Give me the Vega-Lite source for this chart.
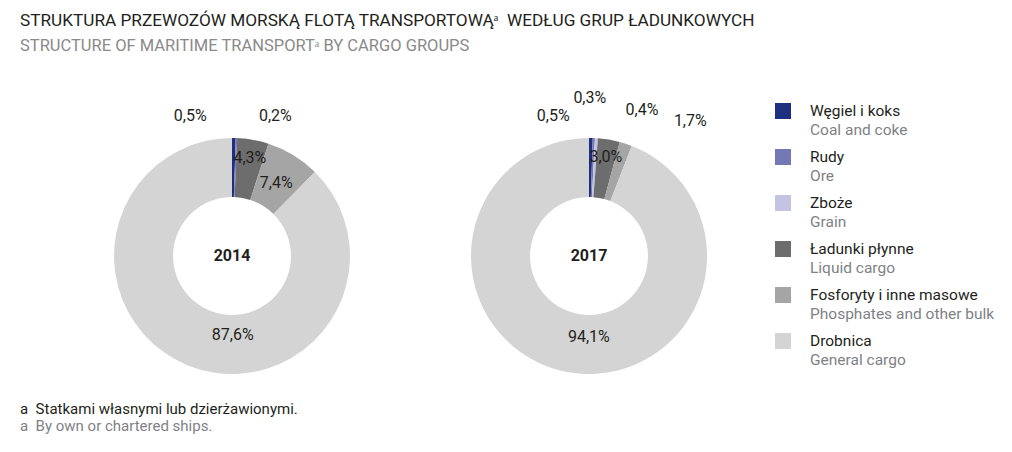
{
  "$schema": "https://vega.github.io/schema/vega-lite/v6.json",
  "padding": {"left": 20, "top": 11, "right": 0, "bottom": 0},
  "bounds": "flush",
  "title": {
    "text": "STRUKTURA PRZEWOZÓW MORSKĄ FLOTĄ TRANSPORTOWĄᵃ\u00a0\u00a0WEDŁUG GRUP ŁADUNKOWYCH",
    "subtitle": "STRUCTURE OF MARITIME TRANSPORTᵃ BY CARGO GROUPS",
    "anchor": "start",
    "fontSize": 17.2,
    "fontWeight": "normal",
    "color": "#231f20",
    "subtitleFontSize": 16.5,
    "subtitleColor": "#8a8a8a",
    "subtitlePadding": 8.5,
    "offset": 36
  },
  "datasets": {
    "cargo": [
      {"year": 2014, "cat": "Węgiel i koks", "en": "Coal and coke", "order": 1, "value": 0.5},
      {"year": 2014, "cat": "Rudy", "en": "Ore", "order": 2, "value": 0.2},
      {"year": 2014, "cat": "Ładunki płynne", "en": "Liquid cargo", "order": 4, "value": 4.3},
      {"year": 2014, "cat": "Fosforyty i inne masowe", "en": "Phosphates and other bulk", "order": 5, "value": 7.4},
      {"year": 2014, "cat": "Drobnica", "en": "General cargo", "order": 6, "value": 87.6},
      {"year": 2017, "cat": "Węgiel i koks", "en": "Coal and coke", "order": 1, "value": 0.5},
      {"year": 2017, "cat": "Rudy", "en": "Ore", "order": 2, "value": 0.3},
      {"year": 2017, "cat": "Zboże", "en": "Grain", "order": 3, "value": 0.4},
      {"year": 2017, "cat": "Ładunki płynne", "en": "Liquid cargo", "order": 4, "value": 3.0},
      {"year": 2017, "cat": "Fosforyty i inne masowe", "en": "Phosphates and other bulk", "order": 5, "value": 1.7},
      {"year": 2017, "cat": "Drobnica", "en": "General cargo", "order": 6, "value": 94.1}
    ]
  },
  "columns": 3,
  "spacing": 0,
  "concat": [
    {
      "width": 424,
      "height": 290,
      "data": {"name": "cargo"},
      "transform": [{"filter": "datum.year == 2014"}],
      "layer": [
        {
          "mark": {"type": "arc", "outerRadius": 118, "innerRadius": 59},
          "encoding": {
            "theta": {"field": "value", "type": "quantitative", "stack": true},
            "order": {"field": "order", "type": "quantitative"},
            "color": {
              "field": "cat", "type": "nominal", "legend": null,
              "scale": {
                "domain": ["Węgiel i koks", "Rudy", "Zboże", "Ładunki płynne", "Fosforyty i inne masowe", "Drobnica"],
                "range": ["#1f2f7f", "#7479b5", "#c4c4e2", "#6d6d6d", "#a5a5a5", "#d4d4d4"]
              }
            }
          }
        },
        {
          "mark": {
            "type": "text", "fontSize": 16, "color": "#231f20",
            "radius": {"expr": "datum.value < 2 ? 142 : datum.value < 5 ? 100 : 85"},
            "dx": {"expr": "datum.cat == 'Węgiel i koks' ? -44 : datum.cat == 'Rudy' ? 38 : datum.cat == 'Drobnica' ? 33 : 0"},
            "dy": {"expr": "datum.value < 2 ? 2 : 0"}
          },
          "encoding": {
            "theta": {"field": "value", "type": "quantitative", "stack": true},
            "order": {"field": "order", "type": "quantitative"},
            "text": {"field": "value", "type": "quantitative", "format": "$.1f"}
          }
        },
        {
          "data": {"values": [{"label": "2014"}]},
          "mark": {"type": "text", "fontSize": 16, "fontWeight": "bold", "color": "#231f20"},
          "encoding": {"text": {"field": "label"}}
        }
      ]
    },
    {
      "width": 290,
      "height": 290,
      "data": {"name": "cargo"},
      "transform": [{"filter": "datum.year == 2017"}],
      "layer": [
        {
          "mark": {"type": "arc", "outerRadius": 118, "innerRadius": 59},
          "encoding": {
            "theta": {"field": "value", "type": "quantitative", "stack": true},
            "order": {"field": "order", "type": "quantitative"},
            "color": {"field": "cat", "type": "nominal", "legend": null}
          }
        },
        {
          "mark": {
            "type": "text", "fontSize": 16, "color": "#231f20",
            "radius": {"expr": "datum.value < 2 ? 142 : datum.value < 5 ? 100 : 82"},
            "dx": {"expr": "datum.cat == 'Węgiel i koks' ? -38 : datum.cat == 'Rudy' ? -5 : datum.cat == 'Zboże' ? 44 : datum.cat == 'Fosforyty i inne masowe' ? 57 : datum.cat == 'Drobnica' ? 15 : 0"},
            "dy": {"expr": "datum.cat == 'Węgiel i koks' ? 2 : datum.cat == 'Rudy' ? -16 : datum.cat == 'Zboże' ? -4 : 0"}
          },
          "encoding": {
            "theta": {"field": "value", "type": "quantitative", "stack": true},
            "order": {"field": "order", "type": "quantitative"},
            "text": {"field": "value", "type": "quantitative", "format": "$.1f"}
          }
        },
        {
          "data": {"values": [{"label": "2017"}]},
          "mark": {"type": "text", "fontSize": 16, "fontWeight": "bold", "color": "#231f20"},
          "encoding": {"text": {"field": "label"}}
        }
      ]
    },
    {
      "width": 98,
      "height": 230,
      "data": {"name": "cargo"},
      "transform": [{"filter": "datum.year == 2017"}],
      "encoding": {
        "y": {"field": "order", "type": "ordinal", "scale": {"type": "point", "padding": 0}, "axis": null}
      },
      "layer": [
        {
          "mark": {"type": "square", "size": 256, "opacity": 1},
          "encoding": {"color": {"field": "cat", "type": "nominal", "legend": null}}
        },
        {
          "mark": {"type": "text", "align": "left", "baseline": "middle", "dx": 27, "dy": 0, "fontSize": 15.5, "color": "#231f20"},
          "encoding": {"text": {"field": "cat"}}
        },
        {
          "mark": {"type": "text", "align": "left", "baseline": "middle", "dx": 27, "dy": 19, "fontSize": 15.5, "color": "#808285"},
          "encoding": {"text": {"field": "en"}}
        }
      ]
    },
    {
      "width": 100,
      "height": 1,
      "data": {"values": []},
      "mark": "text",
      "encoding": {},
      "title": {
        "text": "a\u00a0\u00a0Statkami własnymi lub dzierżawionymi.",
        "subtitle": "a\u00a0\u00a0By own or chartered ships.",
        "orient": "bottom",
        "anchor": "start",
        "fontSize": 15,
        "fontWeight": "normal",
        "color": "#231f20",
        "subtitleFontSize": 15,
        "subtitleColor": "#808285",
        "subtitlePadding": 2,
        "offset": 0
      }
    }
  ],
  "config": {
    "font": "Roboto",
    "view": {"stroke": null},
    "locale": {"number": {"decimal": ",", "thousands": " ", "grouping": [3], "currency": ["", "%"]}}
  }
}
